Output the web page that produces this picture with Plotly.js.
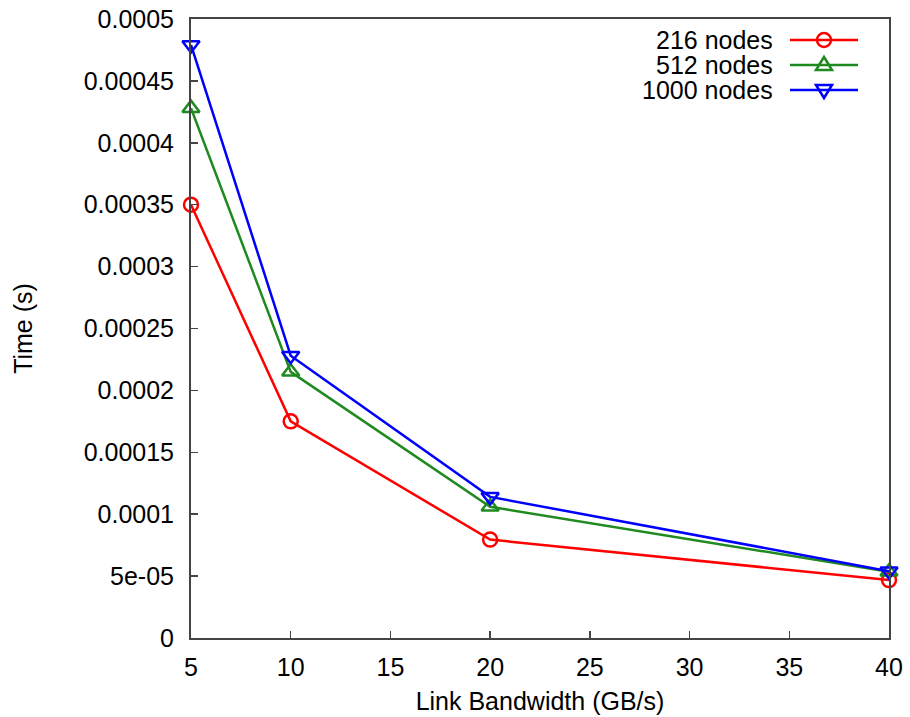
<!DOCTYPE html>
<html>
<head>
<meta charset="utf-8">
<script src="https://cdn.plot.ly/plotly-3.0.1.min.js"></script>
<style>html,body{margin:0;padding:0;background:#fff;}#chart{width:910px;height:717px;}</style>
</head>
<body>
<div id="chart"></div>
<script>
// Data
const bandwidth = [5, 10, 20, 40];
const seriesNames = ["216 nodes", "512 nodes", "1000 nodes"];
const nodes216 = [0.000350, 0.000175, 0.0000795, 0.0000468];
const nodes512 = [0.000428, 0.000215, 0.000106, 0.0000535];
const nodes1000 = [0.000479, 0.000228, 0.000114, 0.0000540];
const yTickVals = [0, 0.00005, 0.0001, 0.00015, 0.0002, 0.00025, 0.0003, 0.00035, 0.0004, 0.00045, 0.0005];
const yTickText = ["0", "5e-05", "0.0001", "0.00015", "0.0002", "0.00025", "0.0003", "0.00035", "0.0004", "0.00045", "0.0005"];
const xTickVals = [5, 10, 15, 20, 25, 30, 35, 40];

const colors = ["#ff0000", "#1f8a1f", "#0000ff"];
const symbols = ["circle-open", "triangle-up-open", "triangle-down-open"];
const values = [nodes216, nodes512, nodes1000];
const FONT = "Liberation Sans, Arial, Helvetica, sans-serif";
const FS = 25;

const traces = values.map((v, i) => ({
  x: bandwidth, y: v, name: seriesNames[i], type: "scatter", mode: "lines+markers",
  line: {color: colors[i], width: 2.5},
  marker: {symbol: symbols[i], size: i === 0 ? 14 : 15, color: colors[i], line: {width: 2.5, color: colors[i]}},
  showlegend: false, cliponaxis: false
}));

// custom legend (text right-aligned, sample on right like gnuplot)
const W = 910, H = 717, ml = 191, mr = 21, mt = 19, mb = 79;
const pw = W - ml - mr, ph = H - mt - mb;
const px = x => (x - ml) / pw;
const py = y => 1 - (y - mt) / ph;
const rows = [40, 65, 90];
const annotations = [];
const shapes = [];
rows.forEach((ry, i) => {
  annotations.push({xref: "paper", yref: "paper", x: px(774), y: py(ry), xanchor: "right", yanchor: "middle",
    height: 24, borderpad: 0,
    text: seriesNames[i], showarrow: false, font: {family: FONT, size: FS, color: "#000"}});
  shapes.push({type: "line", xref: "paper", yref: "paper", x0: px(790), x1: px(858), y0: py(ry), y1: py(ry),
    line: {color: colors[i], width: 2.5}});
});
// legend markers via small pixel-sized shapes
shapes.push({type: "circle", xref: "paper", yref: "paper", xsizemode: "pixel", ysizemode: "pixel",
  xanchor: px(824), yanchor: py(rows[0]), x0: -7, x1: 7, y0: -7, y1: 7,
  line: {color: colors[0], width: 2.5}, fillcolor: "rgba(0,0,0,0)"});
shapes.push({type: "path", xref: "paper", yref: "paper", xsizemode: "pixel", ysizemode: "pixel",
  xanchor: px(824), yanchor: py(rows[1]), path: "M -8,-5 L 8,-5 L 0,8 Z",
  line: {color: colors[1], width: 2.5}, fillcolor: "rgba(0,0,0,0)"});
shapes.push({type: "path", xref: "paper", yref: "paper", xsizemode: "pixel", ysizemode: "pixel",
  xanchor: px(824), yanchor: py(rows[2]), path: "M -8,5 L 8,5 L 0,-8 Z",
  line: {color: colors[2], width: 2.5}, fillcolor: "rgba(0,0,0,0)"});

const axisCommon = {
  showgrid: false, zeroline: false, showline: true, mirror: true,
  linecolor: "#444", linewidth: 2, ticks: "inside", ticklen: 7, tickwidth: 1.5, tickcolor: "#444",
  tickfont: {family: FONT, size: FS, color: "#000"}
};

const layout = {
  width: W, height: H,
  margin: {l: ml, r: mr, t: mt, b: mb},
  paper_bgcolor: "#fff", plot_bgcolor: "#fff",
  showlegend: false,
  xaxis: Object.assign({}, axisCommon, {
    range: [5, 40], tickvals: xTickVals, ticktext: xTickVals.map(String),
    ticklabelstandoff: 6,
    title: {text: "Link Bandwidth (GB/s)", font: {family: FONT, size: FS, color: "#000"}, standoff: 12}
  }),
  yaxis: Object.assign({}, axisCommon, {
    range: [0, 0.0005], tickvals: yTickVals, ticktext: yTickText,
    ticklabelstandoff: 10,
    title: {text: "Time (s)", font: {family: FONT, size: FS, color: "#000"}, standoff: 44}
  }),
  annotations: annotations,
  shapes: shapes
};

Plotly.newPlot("chart", traces, layout, {displayModeBar: false, staticPlot: true});
</script>
</body>
</html>
